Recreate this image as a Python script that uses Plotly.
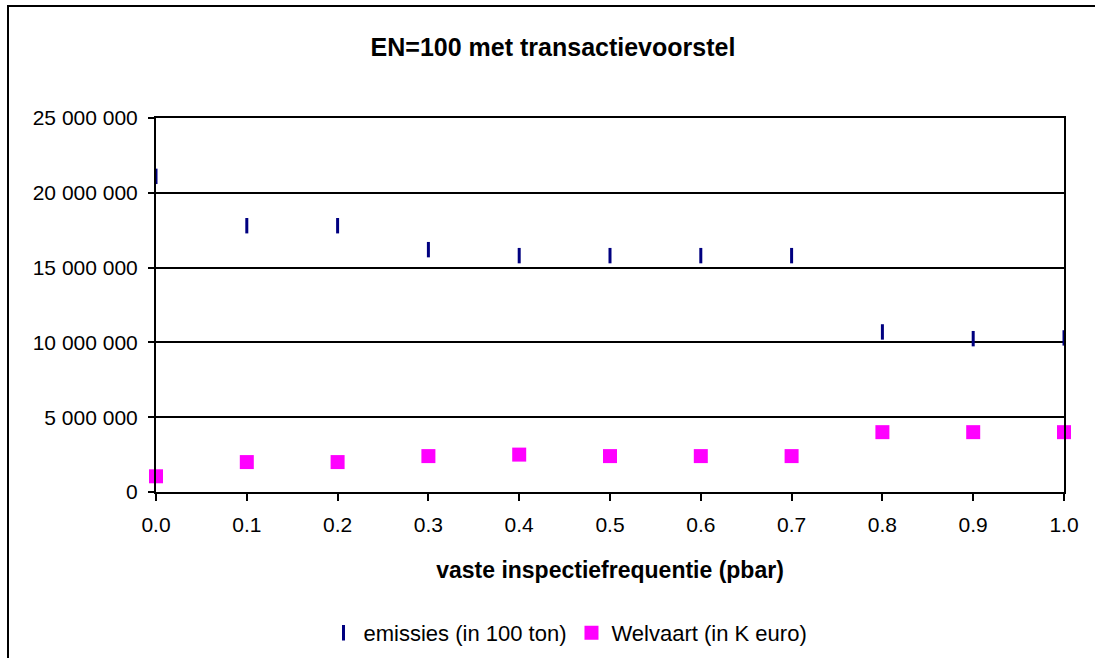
import plotly.graph_objects as go

# vaste inspectiefrequentie (pbar)
pbar = [0.0, 0.1, 0.2, 0.3, 0.4, 0.5, 0.6, 0.7, 0.8, 0.9, 1.0]
emissies = [21100000, 17800000, 17800000, 16200000, 15800000, 15800000,
            15800000, 15800000, 10700000, 10250000, 10300000]
welvaart = [1050000, 2000000, 2000000, 2400000, 2500000, 2400000,
            2400000, 2400000, 4000000, 4000000, 4000000]
y_ticks = [0, 5000000, 10000000, 15000000, 20000000, 25000000]

FONT = "Liberation Sans, Arial, sans-serif"

W, H = 1095, 658
L, R, T, B = 156, 31, 118, 166
pw, ph = W - L - R, H - T - B

fig = go.Figure()
fig.add_trace(go.Scatter(
    x=pbar, y=emissies, mode="markers", name="emissies (in 100 ton)",
    cliponaxis=False,
    marker=dict(symbol="line-ns", size=11, color="#000080",
                line=dict(color="#000080", width=3)),
))
fig.add_trace(go.Scatter(
    x=pbar, y=welvaart, mode="markers", name="Welvaart (in K euro)",
    cliponaxis=False,
    marker=dict(symbol="square", size=14, color="#FF00FF",
                line=dict(width=0)),
))

# outer chart border (cut off at right and bottom in the reference)
fig.add_shape(type="rect", xref="paper", yref="paper",
              x0=(8 - L) / pw, x1=(W + 10 - L) / pw,
              y0=-(H + 10 - T - ph) / ph, y1=(H - B - 6) / ph,
              line=dict(color="black", width=2), fillcolor="rgba(0,0,0,0)",
              layer="above")

fig.update_layout(
    width=W, height=H,
    margin=dict(l=L, r=R, t=T, b=B, autoexpand=False),
    paper_bgcolor="white", plot_bgcolor="white",
    separators=". ",
    font=dict(family=FONT, size=21, color="black"),
    title=dict(text="<b>EN=100 met transactievoorstel</b>",
               x=553 / W, xanchor="center", xref="container",
               y=1 - 47 / H, yanchor="middle",
               font=dict(family=FONT, size=25, color="black")),
    showlegend=True,
    legend=dict(orientation="h", xref="container", x=568 / W, xanchor="center",
                yref="container", y=1 - 612 / H, yanchor="top",
                font=dict(family=FONT, size=22, color="black"),
                itemwidth=30, tracegroupgap=0),
)
fig.update_xaxes(
    range=[0, 1], tickvals=pbar, tickformat=".1f", automargin=False,
    showgrid=False, zeroline=False,
    showline=True, linecolor="black", linewidth=2, mirror=True,
    ticks="outside", ticklen=7, tickwidth=1.5, tickcolor="black",
    ticklabelstandoff=6,
    title=dict(text="<b>vaste inspectiefrequentie (pbar)</b>", standoff=27,
               font=dict(family=FONT, size=23, color="black")),
)
fig.update_yaxes(
    range=[0, 25000000], tickvals=y_ticks, tickformat=",d", automargin=False,
    showgrid=True, gridcolor="black", gridwidth=1.5, zeroline=False,
    showline=True, linecolor="black", linewidth=2, mirror=True,
    ticks="outside", ticklen=6, tickwidth=1.5, tickcolor="black",
    ticklabelstandoff=6,
)

fig.write_html("out.html", config={"displayModeBar": False},
               post_script="document.body.style.margin='0';")
